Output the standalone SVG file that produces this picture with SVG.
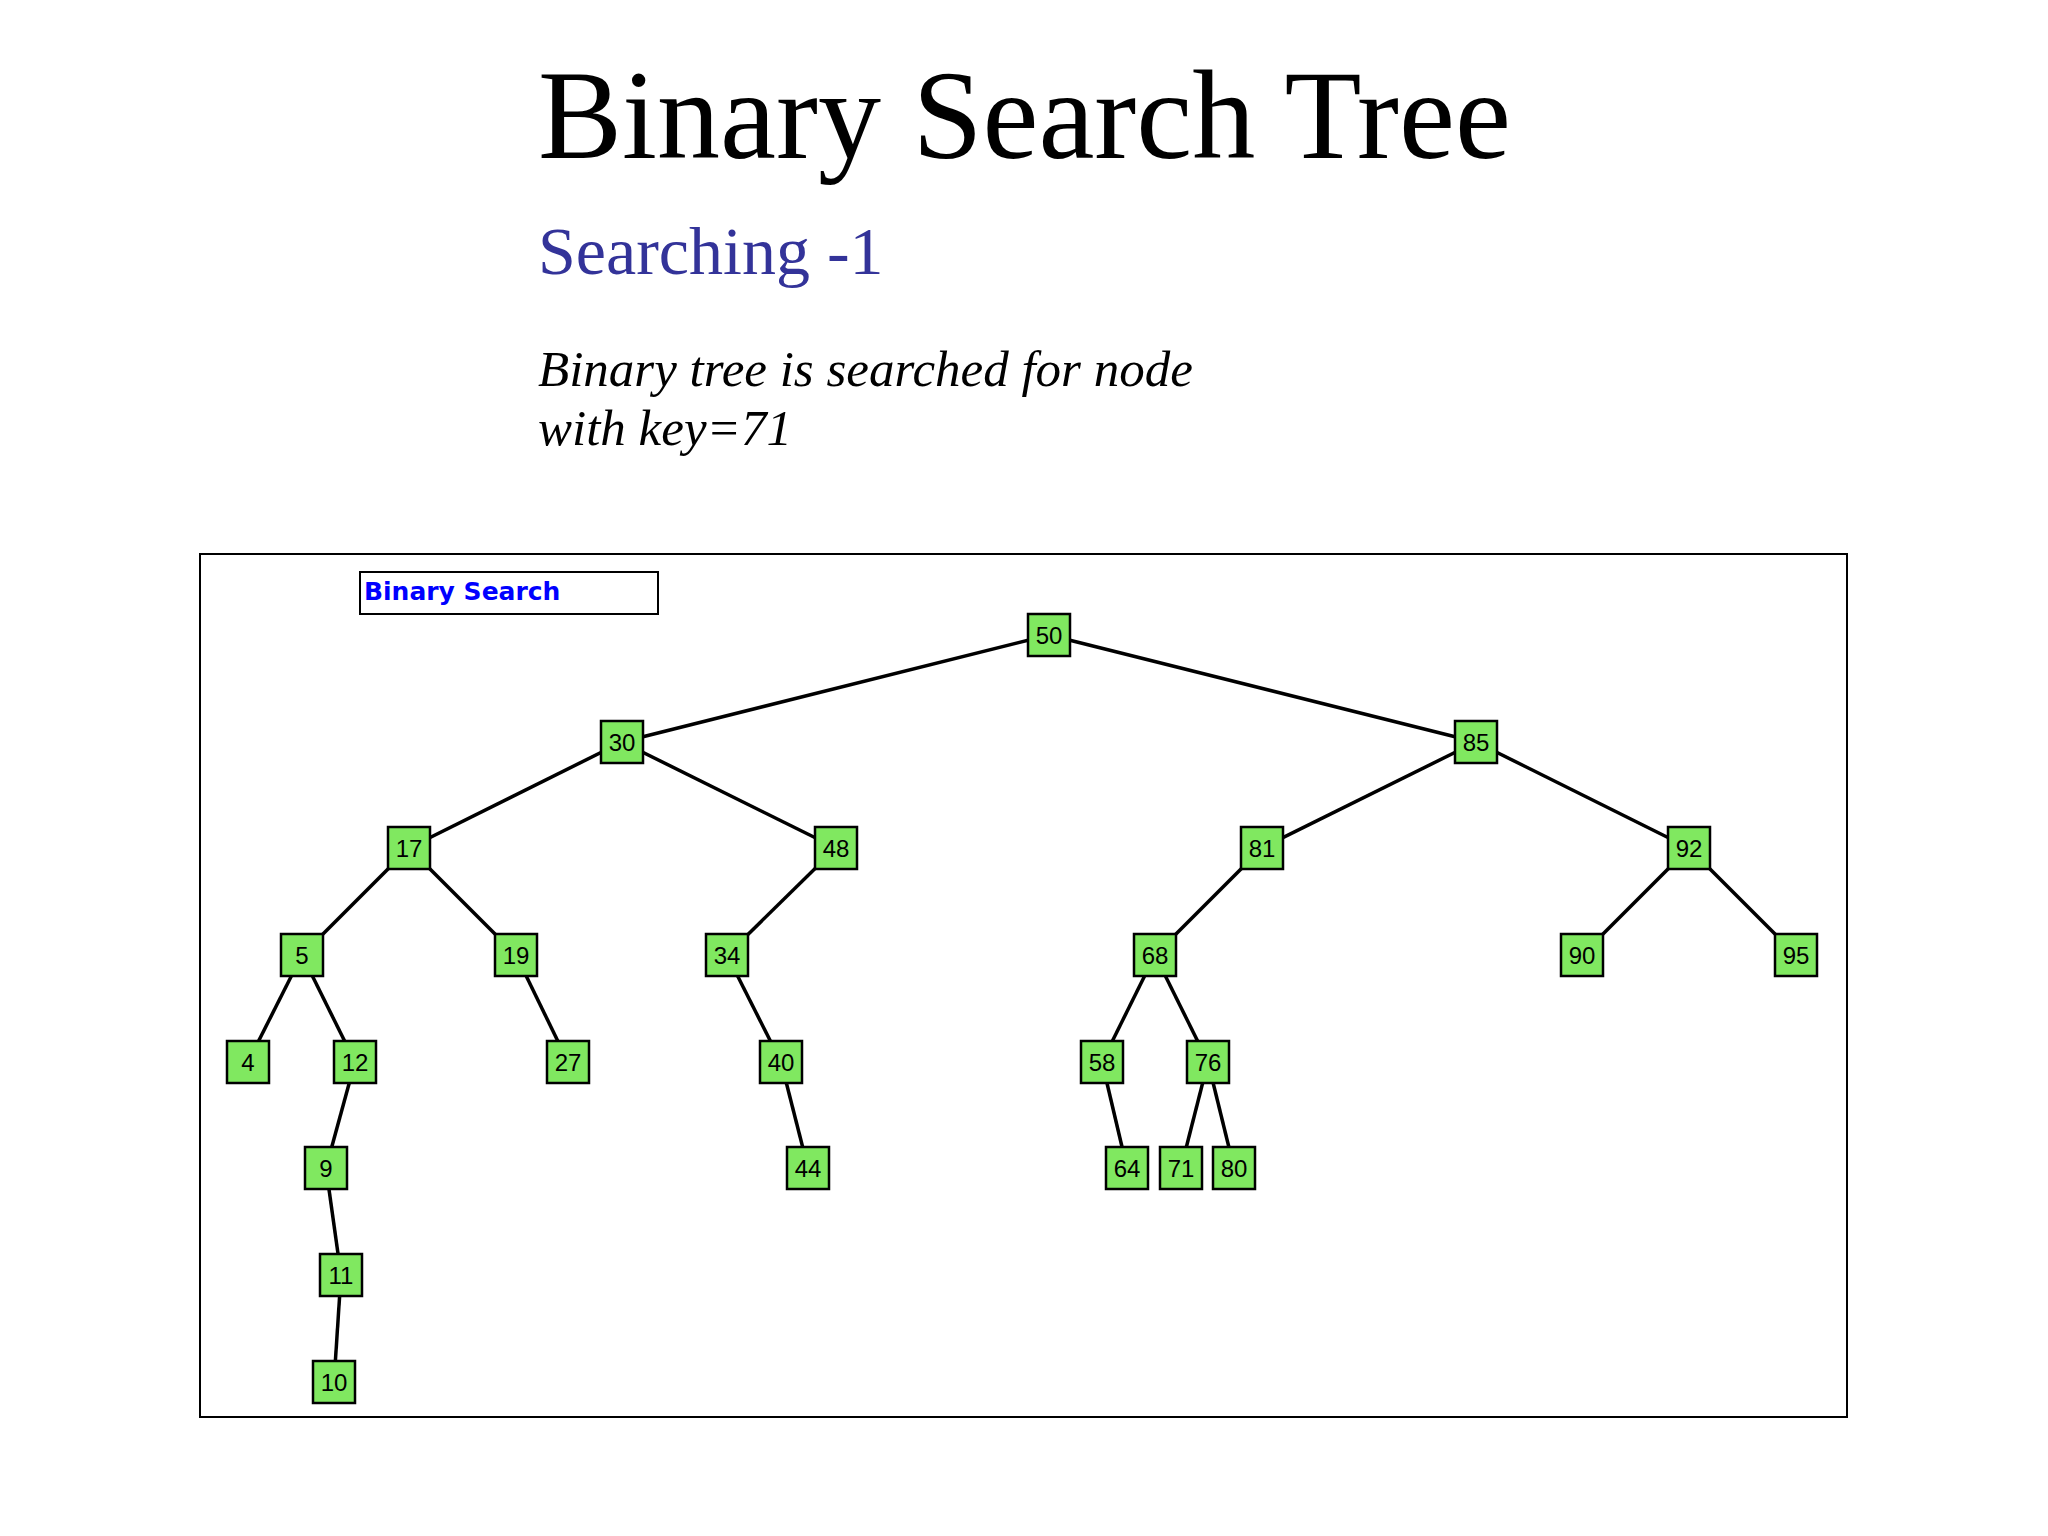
<svg xmlns="http://www.w3.org/2000/svg" width="2048" height="1536" viewBox="0 0 2048 1536">
<style>
.bx{fill:#80e860;stroke:#000;stroke-width:2.5}
.n text{font-family:"Liberation Sans",Arial,sans-serif;font-size:24px;text-anchor:middle;fill:#000}
#edges line{stroke:#000;stroke-width:3.5}
</style>
<defs><rect id="box" class="bx" x="-21" y="-21" width="42" height="42"/></defs>
<rect width="2048" height="1536" fill="#fff"/>
<text x="538" y="158" font-family="Liberation Serif,serif" font-size="126">Binary Search Tree</text>
<text x="538" y="274" font-family="Liberation Serif,serif" font-size="68" fill="#333399">Searching -1</text>
<text font-family="Liberation Serif,serif" font-style="italic" font-size="51"><tspan x="538" y="386">Binary tree is searched for node</tspan><tspan x="538" y="445">with key=71</tspan></text>
<rect x="200" y="554" width="1647" height="863" fill="none" stroke="#000" stroke-width="2"/>
<rect x="360" y="572" width="298" height="42" fill="#fff" stroke="#000" stroke-width="2"/>
<text x="364" y="600" font-family="DejaVu Sans,sans-serif" font-weight="bold" font-size="25" fill="#0000ff">Binary Search</text>
<g id="edges">
<line x1="1049" y1="635" x2="622" y2="742"/><line x1="1049" y1="635" x2="1476" y2="742"/>
<line x1="622" y1="742" x2="409" y2="848"/><line x1="622" y1="742" x2="836" y2="848"/>
<line x1="1476" y1="742" x2="1262" y2="848"/><line x1="1476" y1="742" x2="1689" y2="848"/>
<line x1="409" y1="848" x2="302" y2="955"/><line x1="409" y1="848" x2="516" y2="955"/>
<line x1="836" y1="848" x2="727" y2="955"/><line x1="1262" y1="848" x2="1155" y2="955"/>
<line x1="1689" y1="848" x2="1582" y2="955"/><line x1="1689" y1="848" x2="1796" y2="955"/>
<line x1="302" y1="955" x2="248" y2="1062"/><line x1="302" y1="955" x2="355" y2="1062"/>
<line x1="516" y1="955" x2="568" y2="1062"/><line x1="727" y1="955" x2="781" y2="1062"/>
<line x1="1155" y1="955" x2="1102" y2="1062"/><line x1="1155" y1="955" x2="1208" y2="1062"/>
<line x1="355" y1="1062" x2="326" y2="1168"/><line x1="781" y1="1062" x2="808" y2="1168"/>
<line x1="1102" y1="1062" x2="1127" y2="1168"/><line x1="1208" y1="1062" x2="1181" y2="1168"/><line x1="1208" y1="1062" x2="1234" y2="1168"/>
<line x1="326" y1="1168" x2="341" y2="1275"/><line x1="341" y1="1275" x2="334" y2="1382"/>
</g>
<g id="n50" class="n" transform="translate(1049,635)"><use href="#box"/><text y="9">50</text></g>
<g id="n30" class="n" transform="translate(622,742)"><use href="#box"/><text y="9">30</text></g>
<g id="n85" class="n" transform="translate(1476,742)"><use href="#box"/><text y="9">85</text></g>
<g id="n17" class="n" transform="translate(409,848)"><use href="#box"/><text y="9">17</text></g>
<g id="n48" class="n" transform="translate(836,848)"><use href="#box"/><text y="9">48</text></g>
<g id="n81" class="n" transform="translate(1262,848)"><use href="#box"/><text y="9">81</text></g>
<g id="n92" class="n" transform="translate(1689,848)"><use href="#box"/><text y="9">92</text></g>
<g id="n5" class="n" transform="translate(302,955)"><use href="#box"/><text y="9">5</text></g>
<g id="n19" class="n" transform="translate(516,955)"><use href="#box"/><text y="9">19</text></g>
<g id="n34" class="n" transform="translate(727,955)"><use href="#box"/><text y="9">34</text></g>
<g id="n68" class="n" transform="translate(1155,955)"><use href="#box"/><text y="9">68</text></g>
<g id="n90" class="n" transform="translate(1582,955)"><use href="#box"/><text y="9">90</text></g>
<g id="n95" class="n" transform="translate(1796,955)"><use href="#box"/><text y="9">95</text></g>
<g id="n4" class="n" transform="translate(248,1062)"><use href="#box"/><text y="9">4</text></g>
<g id="n12" class="n" transform="translate(355,1062)"><use href="#box"/><text y="9">12</text></g>
<g id="n27" class="n" transform="translate(568,1062)"><use href="#box"/><text y="9">27</text></g>
<g id="n40" class="n" transform="translate(781,1062)"><use href="#box"/><text y="9">40</text></g>
<g id="n58" class="n" transform="translate(1102,1062)"><use href="#box"/><text y="9">58</text></g>
<g id="n76" class="n" transform="translate(1208,1062)"><use href="#box"/><text y="9">76</text></g>
<g id="n9" class="n" transform="translate(326,1168)"><use href="#box"/><text y="9">9</text></g>
<g id="n44" class="n" transform="translate(808,1168)"><use href="#box"/><text y="9">44</text></g>
<g id="n64" class="n" transform="translate(1127,1168)"><use href="#box"/><text y="9">64</text></g>
<g id="n71" class="n" transform="translate(1181,1168)"><use href="#box"/><text y="9">71</text></g>
<g id="n80" class="n" transform="translate(1234,1168)"><use href="#box"/><text y="9">80</text></g>
<g id="n11" class="n" transform="translate(341,1275)"><use href="#box"/><text y="9">11</text></g>
<g id="n10" class="n" transform="translate(334,1382)"><use href="#box"/><text y="9">10</text></g>
</svg>
